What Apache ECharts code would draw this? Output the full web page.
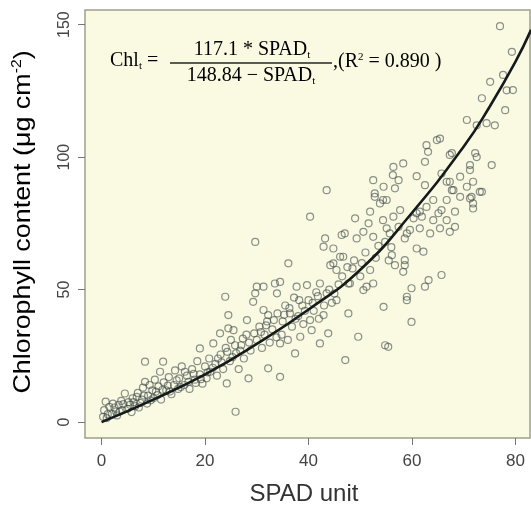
<!DOCTYPE html>
<html>
<head>
<meta charset="utf-8">
<script src="https://cdn.jsdelivr.net/npm/echarts@6/dist/echarts.min.js"></script>
<style>html,body{margin:0;padding:0;background:#fff}#c{width:531px;height:506px}</style>
</head>
<body>
<div id="c"></div>
<script>
// Observations: [SPAD unit, Chlorophyll content]
const observations = [
[0.3,2],[0.5,4.5],[0.8,7.7],[1,1.5],[1.5,5.8],[2,3],[2.2,7],[2.8,4],[3,2.5],[3.3,6.5],[3.8,8],[4,4.5],[4.5,10.8],[5,5],[5.2,7.5],[5.8,3.8],[6,9],[6.5,6],[7,11],[7.2,5.5],[7.8,8.5],[8,13],[8.4,15.2],[8.4,22.8],[8.8,7],[9,10],[9.3,14],[9.8,12],[10,9],[10.3,16],[10.5,11.5],[11,13.5],[11.3,19],[11.5,8.5],[11.9,22.8],[12,15],[12.5,12],[13,17],[13.5,10.5],[14,14],[14.2,19.5],[14.8,12.5],[15,16.5],[15.5,21],[16,14],[16.1,19],[16.5,17.5],[17,12.5],[17.5,20],[18,16],[18.5,23],[19,18],[19,27.8],[19.5,14.5],[20,21],[20.3,16.5],[20.8,24],[21,19],[21.6,29.7],[22,22],[22.3,17.5],[22.9,33.5],[23,25.5],[23.5,20],[23.9,47.3],[24,28],[24.2,14.6],[24.5,40.4],[24.5,35.4],[24.8,23],[25,31],[25.5,34.7],[25.9,3.9],[26,26],[26.5,20],[27,29],[27.5,24],[28,33],[28.1,38.5],[28.4,16.5],
[1.2,3],[2.5,5.5],[3.5,4],[4.2,6.8],[5.5,6.5],[6.2,7.5],[6.8,9.5],[7.5,7.2],[8.2,10],[9.5,8.2],[10.8,10.2],[11.8,12.2],[12.8,13.8],[13.2,11.5],[14.5,15.8],[15.3,13.2],[16.8,15.2],[17.8,18.2],[18.2,14.8],[19.2,16.2],[20.5,18.8],[21.5,20.5],[22.5,24],[23.2,22.5],[24.3,26.5],[25.3,24.5],[25.8,29],[26.8,27],[27.3,31.5],[28.5,30],[29.5,33.5],[30.8,34],[31.8,36.5],[33.3,38.5],[33.8,32],[35.3,40.5],[36.3,43],[37.5,39],[38.2,46],[39.3,42],[40.8,45],[41.8,47.5],[43,44],[44,50],[45,48.5],[46.5,55],[47.5,58.5],[48.8,61],[50.3,60],[51,64],[53.5,66.5],[55.5,61],
[28.8,27],[29.3,45.4],[29.7,68],[29.7,48.6],[30,51.1],[30,31],[30.5,36],[31,28],[31.3,42.3],[31.3,51.1],[31.5,33],[32,38],[32.2,40.4],[32.2,20.3],[32.5,30],[33,35],[33.5,52.3],[33.9,48.6],[34,41],[34.5,29.7],[34.5,52.9],[34.5,17.1],[34.8,33],[35,38],[35.5,44],[36,31],[36.1,59.9],[36.4,41],[36.8,36],[37.2,47],[37.4,25.9],[37.7,51.1],[38,40],[38.4,32.2],[38.8,44],[39,37],[39.7,51.7],[40,46],[40.3,38.5],[40.3,77.5],[40.6,34.7],[41,42],[41.5,49],[42,39],[42.2,52.3],[42.2,29.7],[42.9,40.4],[42.9,66.2],[43.2,69.3],[43.5,48.6],[43.5,87.5],[43.8,33.5],[44.2,59.2],[44.5,45],[44.8,65.5],[44.8,59.9],[45.4,57.4],[45.4,46],[45.8,52],[46.1,62.4],[46.4,70.6],[46.7,62.4],[47,71.2],[47.1,23.4],[47.7,41],[47.7,52.3],[48,52.3],[48.5,58],[49,76.9],[49.3,69.3],[49.6,32.2],[50,55],[50.6,71.8],[50.6,49.8],[51.2,51.1],[51.6,75],[51.9,57.4],[51.9,79.4],[52.5,91.3],[52.5,69.9],[52.5,52.3],[52.8,85],[52.8,86.3],[53,62],[53.8,82.5],[54.4,83.8],[54.4,76.2],[54.5,88.8],[54.5,43.5],[54.8,68],[54.8,29],[55.1,73.1],[55.1,83.8],[55.4,28.4],[55.7,71.2],[56,66],[56.1,63],[56.3,93.2],[56.4,96.3],[56.4,77.5],[56.7,59.2],[56.7,88.2],[57.4,73.7],[57.4,91.3],[57.7,80],[58.3,97.6],[58.3,56.7],[58.6,69.3],[58.6,61.1],[58.6,59.2],[59,71.2],[59,47.3],[59,46],[59.6,72.5],[59.9,37.8],[59.9,50.5],[60.3,76.9],[60.9,92.8],[60.9,65.5],[60.9,78.8],[61.5,73.1],[61.5,79.4],[61.9,77.5],[62.2,64.3],[62.5,98.2],[62.5,51.1],[62.5,89.4],[62.8,104.5],[62.8,81.2],[63.1,102],[63.2,53.6],[63.5,71.2],[64.1,76.2],[64.1,83.8],[64.8,106.4],[65.1,78.8],[65.4,107],[65.4,73.1],[65.7,80],[65.7,55.5],[65.7,93.8],[66.7,90.7],[66.7,83.8],[66.7,76.2],[67.3,100.8],[67.3,71.8],[67.3,90.7],[67.7,101.5],[67.7,87.5],[68,87.5],[68.3,79.4],[68.3,73.7],[69.3,85],[69.3,92.6],[70.6,114],[70.6,88.8],[71.2,97],[71.2,84.4],[71.2,95.1],[71.5,85],[71.8,90.7],[71.8,80.6],[71.8,82.5],[72.2,101.5],[72.5,112],[72.5,100],[73.1,86.9],[73.5,122.2],[73.5,86.9],[74.4,112.8],[75.1,128.4],[75.4,97],[76,112],[77,149.4],[77.6,131],[78,117.7],[78.3,125.2],[79.3,139.7],[79.5,125.3]
];
// Fitted curve
const fitSpad = [0, 10, 20, 30, 40, 50, 60, 70, 75, 80, 83];
const fitChl  = [0, 8.5, 18, 29.5, 42.5, 57.5, 79, 104, 119, 136, 148];
const xTicks = [0, 20, 40, 60, 80];
const yTicks = [0, 50, 100, 150];

const chart = echarts.init(document.getElementById('c'), null, {renderer: 'canvas'});
const sans = 'Liberation Sans, Arial, sans-serif';
const serif = 'Liberation Serif, Times New Roman, serif';
const eqColor = '#262626';
chart.setOption({
  animation: false,
  backgroundColor: '#ffffff',
  grid: {left: 85, right: 1, top: 10, bottom: 68, show: true, backgroundColor: '#fafae2', borderColor: '#9fa08a', borderWidth: 1.5},
  xAxis: {
    type: 'value', min: -3.2, max: 82.8,
    splitLine: {show: false},
    axisLine: {show: false, onZero: false},
    axisTick: {show: true, inside: false, length: 7, customValues: xTicks, lineStyle: {color: '#777'}},
    axisLabel: {customValues: xTicks, margin: 15, fontSize: 17, color: '#444', fontFamily: sans}
  },
  yAxis: {
    type: 'value', min: -6, max: 155.5,
    splitLine: {show: false},
    axisLine: {show: false, onZero: false},
    axisTick: {show: true, inside: false, length: 7, customValues: yTicks, lineStyle: {color: '#777'}},
    axisLabel: {customValues: yTicks, rotate: 90, margin: 12, fontSize: 16, color: '#444', fontFamily: sans}
  },
  series: [
    {
      type: 'scatter',
      data: observations,
      symbol: 'circle',
      symbolSize: 7,
      itemStyle: {color: 'rgba(0,0,0,0)', borderColor: 'rgba(62,74,74,0.75)', borderWidth: 1.2}
    },
    {
      type: 'line',
      data: fitSpad.map((s, i) => [s, fitChl[i]]),
      smooth: true,
      showSymbol: false,
      clip: true,
      lineStyle: {color: '#151a1a', width: 2.6},
      z: 5
    }
  ],
  graphic: [
    {type: 'text', x: 304, y: 494, style: {text: 'SPAD unit', font: '24px ' + sans, fill: '#333', textAlign: 'center', textVerticalAlign: 'middle'}},
    {type: 'text', x: 23, y: 222, rotation: Math.PI / 2, scaleX: 1.12, style: {
      text: '{a|Chlorophyll content (μg cm}{s|-2}{a|)}', textAlign: 'center', textVerticalAlign: 'middle',
      rich: {a: {fontSize: 24, fontFamily: sans, color: '#333'},
             s: {fontSize: 14, fontFamily: sans, color: '#333', verticalAlign: 'top', padding: [0,0,12,0]}}
    }},
    // Equation
    {type: 'text', x: 110, y: 61, style: {
      text: '{a|Chl}{s|t}{a| =}', textAlign: 'left', textVerticalAlign: 'middle',
      rich: {a: {fontSize: 20, fontFamily: serif, color: eqColor}, s: {fontSize: 11, fontFamily: serif, color: eqColor, padding: [10,0,0,0]}}
    }},
    {type: 'text', x: 252, y: 50, style: {
      text: '{a|117.1 * SPAD}{s|t}', textAlign: 'center', textVerticalAlign: 'middle',
      rich: {a: {fontSize: 20, fontFamily: serif, color: eqColor}, s: {fontSize: 11, fontFamily: serif, color: eqColor, padding: [10,0,0,0]}}
    }},
    {type: 'line', shape: {x1: 170, y1: 63, x2: 332, y2: 63}, style: {stroke: eqColor, lineWidth: 1.3}},
    {type: 'text', x: 251, y: 76, style: {
      text: '{a|148.84 − SPAD}{s|t}', textAlign: 'center', textVerticalAlign: 'middle',
      rich: {a: {fontSize: 20, fontFamily: serif, color: eqColor}, s: {fontSize: 11, fontFamily: serif, color: eqColor, padding: [10,0,0,0]}}
    }},
    {type: 'text', x: 333, y: 62, style: {
      text: '{a|,(R}{s|2}{a| = 0.890 )}', textAlign: 'left', textVerticalAlign: 'middle',
      rich: {a: {fontSize: 20, fontFamily: serif, color: eqColor}, s: {fontSize: 11, fontFamily: serif, color: eqColor, padding: [0,0,10,0]}}
    }}
  ]
});
</script>
</body>
</html>
